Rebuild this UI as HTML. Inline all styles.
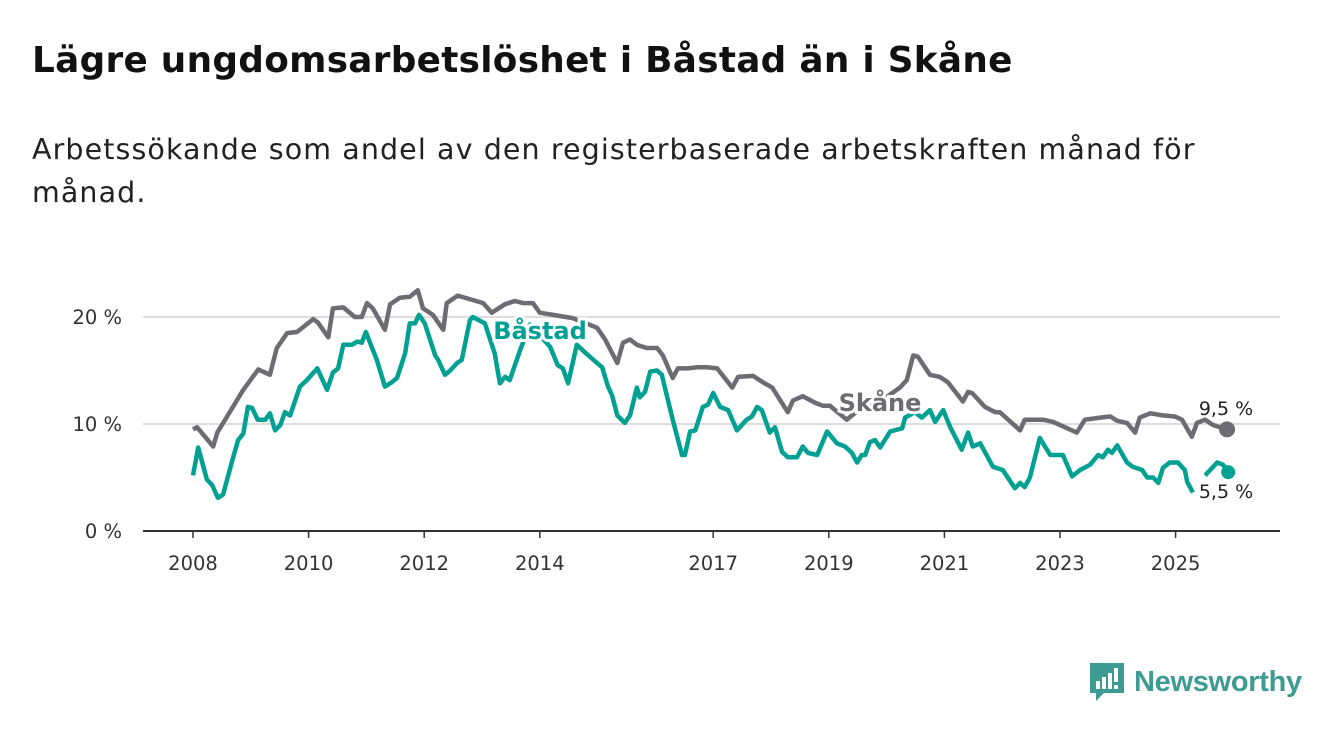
<!DOCTYPE html>
<html><head><meta charset="utf-8"><style>
body{margin:0;width:1340px;height:734px;background:#fff;font-family:"DejaVu Sans","Liberation Sans",sans-serif;overflow:hidden;position:relative}
h1{position:absolute;left:32px;top:40px;margin:0;font-size:35.8px;font-weight:bold;color:#111;white-space:nowrap;letter-spacing:0.3px}
.sub{position:absolute;left:32px;top:128px;width:1200px;font-size:28.5px;line-height:43px;color:#222;letter-spacing:1.1px}
svg{position:absolute;left:0;top:0}
</style></head><body>
<h1>Lägre ungdomsarbetslöshet i Båstad än i Skåne</h1>
<div class="sub">Arbetssökande som andel av den registerbaserade arbetskraften månad för månad.</div>
<svg id="c" width="1340" height="734"></svg>
<script>
const yTicks=[0,10,20];
const xTicks=[2008,2010,2012,2014,2017,2019,2021,2023,2025];
const skaneT=[0,.07,.35,.42,.59,.87,1.13,1.33,1.45,1.63,1.8,2.08,2.16,2.34,2.42,2.6,2.8,2.92,3.01,3.11,3.32,3.41,3.58,3.75,3.89,3.98,4.15,4.33,4.39,4.58,4.83,5.02,5.17,5.4,5.57,5.71,5.88,6,6.57,6.99,7.13,7.34,7.44,7.56,7.68,7.85,8.03,8.13,8.3,8.39,8.55,8.72,8.89,9.07,9.33,9.43,9.69,9.86,10.02,10.29,10.38,10.55,10.76,10.9,11.02,11.31,11.63,11.97,12.23,12.35,12.46,12.54,12.75,12.92,13.06,13.32,13.41,13.48,13.7,13.88,13.96,14.31,14.39,14.71,14.88,15.29,15.43,15.69,15.87,15.99,16.16,16.3,16.38,16.56,16.78,16.99,17.11,17.28,17.37,17.51,17.65,17.89];
const skaneV=[9.5,9.7,7.9,9.2,10.7,13.2,15.1,14.6,17.1,18.5,18.6,19.8,19.5,18.1,20.8,20.9,20,20,21.3,20.8,18.8,21.2,21.8,21.9,22.5,20.8,20.2,18.8,21.3,22,21.6,21.3,20.4,21.2,21.5,21.3,21.3,20.4,19.9,19,17.9,15.7,17.6,17.9,17.4,17.1,17.1,16.4,14.3,15.2,15.2,15.3,15.3,15.2,13.4,14.4,14.5,13.9,13.4,11.1,12.2,12.6,12,11.7,11.7,10.4,11.8,12.4,13.4,14.1,16.4,16.3,14.6,14.4,13.9,12.1,13,12.9,11.6,11.1,11.1,9.4,10.4,10.4,10.2,9.2,10.4,10.6,10.7,10.3,10.1,9.2,10.6,11,10.8,10.7,10.4,8.8,10.1,10.4,9.9,9.5];
const bastadT=[0,.09,.24,.33,.43,.52,.67,.78,.87,.95,1.02,1.12,1.25,1.33,1.42,1.51,1.59,1.68,1.85,1.97,2.15,2.32,2.42,2.51,2.6,2.75,2.84,2.92,2.99,3.18,3.32,3.44,3.53,3.67,3.75,3.84,3.91,4.01,4.19,4.24,4.36,4.45,4.57,4.65,4.79,4.84,5.05,5.22,5.31,5.4,5.48,5.66,5.83,6,6.18,6.31,6.4,6.49,6.64,6.78,6.99,7.08,7.18,7.25,7.34,7.47,7.56,7.68,7.73,7.82,7.91,8.03,8.11,8.3,8.46,8.51,8.6,8.69,8.82,8.91,9,9.12,9.26,9.41,9.58,9.67,9.76,9.84,9.98,10.07,10.19,10.29,10.45,10.55,10.64,10.8,10.97,11.14,11.28,11.4,11.49,11.57,11.63,11.71,11.8,11.89,12.06,12.27,12.32,12.49,12.61,12.75,12.84,12.98,13.1,13.3,13.41,13.49,13.62,13.84,14.01,14.22,14.31,14.39,14.48,14.65,14.83,15.05,15.21,15.35,15.52,15.66,15.74,15.83,15.9,15.99,16.16,16.26,16.42,16.51,16.61,16.7,16.78,16.9,16.99,17.04,17.16,17.2,17.3,17.4,17.51,17.72,17.82,17.91];
const bastadV=[5.2,7.8,4.8,4.3,3.1,3.4,6.4,8.5,9.1,11.6,11.5,10.4,10.4,11,9.4,9.9,11.1,10.8,13.5,14.1,15.2,13.2,14.8,15.2,17.4,17.4,17.7,17.6,18.6,16,13.5,13.9,14.3,16.6,19.4,19.4,20.2,19.4,16.4,16,14.6,15,15.7,16,19.7,20,19.4,16.6,13.8,14.4,14.1,16.9,19.3,18.3,17.2,15.5,15.2,13.8,17.4,16.7,15.7,15.3,13.5,12.7,10.8,10.1,10.8,13.4,12.5,13,14.9,15,14.6,10.4,7.1,7.1,9.3,9.4,11.6,11.8,12.9,11.6,11.3,9.4,10.4,10.7,11.6,11.3,9.2,9.7,7.4,6.9,6.9,7.9,7.3,7.1,9.3,8.2,7.9,7.3,6.4,7.1,7.1,8.3,8.5,7.8,9.3,9.6,10.6,11.1,10.6,11.3,10.2,11.3,9.7,7.6,9.2,7.9,8.2,6,5.7,4,4.5,4.1,5,8.7,7.1,7.1,5.1,5.7,6.2,7.1,6.9,7.6,7.3,8,6.4,6,5.7,5,5,4.5,5.9,6.4,6.4,6.4,5.7,4.6,3.6,null,5.2,6.4,6.2,5.5];
const NS='http://www.w3.org/2000/svg';
const svg=document.getElementById('c');
const X=t=>193+t*57.8, Xy=y=>X(y-2008), Y=v=>531-v*10.7;
function el(tag,a,txt){const e=document.createElementNS(NS,tag);for(const k in a)e.setAttribute(k,a[k]);if(txt!=null)e.textContent=txt;svg.appendChild(e);return e;}
yTicks.forEach(v=>{
 const g=el('line',{x1:143,x2:1280,y1:Y(v),y2:Y(v),stroke:v?'#ddd':'#333','stroke-width':2});
 
 
 const t=el('text',{x:122,y:Y(v)+7,'text-anchor':'end','font-size':19.5,fill:'#333'},v+' %');
 
 
});
xTicks.forEach(y=>{
 const tk=el('line',{x1:Xy(y),x2:Xy(y),y1:531,y2:538,stroke:'#333','stroke-width':1.5});
 
 
 const t=el('text',{x:Xy(y),y:570,'text-anchor':'middle','font-size':19.5,fill:'#333'},y);
 
 
});
function path(T,V){let d='',pen=false;T.forEach((t,i)=>{if(V[i]==null){pen=false;return;}d+=(pen?'L':'M')+X(t).toFixed(1)+','+Y(V[i]).toFixed(1);pen=true;});return d;}
const ps=el('path',{d:path(skaneT,skaneV),fill:'none',stroke:'#6d6c72','stroke-width':4.5,'stroke-linejoin':'round'});


const pb=el('path',{d:path(bastadT,bastadV),fill:'none',stroke:'#00a093','stroke-width':4.5,'stroke-linejoin':'round'});


const sl=skaneT.length-1, bl=bastadT.length-1;
const d1=el('circle',{cx:X(skaneT[sl]),cy:Y(skaneV[sl]),r:8,fill:'#6d6c72'});


const d2=el('circle',{cx:X(bastadT[bl]),cy:Y(bastadV[bl]),r:7,fill:'#00a093'});


const l1=el('text',{x:1226,y:415,'text-anchor':'middle','font-size':19,fill:'#222'},'9,5 %');


const l2=el('text',{x:1226,y:498,'text-anchor':'middle','font-size':19,fill:'#222'},'5,5 %');


const n1=el('text',{x:540,y:339,'text-anchor':'middle','font-size':24,'font-weight':'bold',fill:'#00a093',stroke:'#fff','stroke-width':6,'paint-order':'stroke'},'Båstad');


const n2=el('text',{x:880,y:411,'text-anchor':'middle','font-size':24,'font-weight':'bold',fill:'#6d6c72',stroke:'#fff','stroke-width':6,'paint-order':'stroke'},'Skåne');


</script>
<div style="position:absolute;left:1088px;top:661px;display:flex;align-items:center">
<svg width="38" height="42" style="position:static" viewBox="0 0 38 42"><path d="M2 2H36V32H16L8 40V32H2Z" fill="#3d9b93"/><rect x="8" y="20" width="4" height="8" fill="#fff"/><rect x="14" y="16" width="4" height="12" fill="#fff"/><rect x="20" y="12" width="4" height="16" fill="#fff"/><rect x="26" y="7" width="4" height="14" fill="#fff"/><rect x="26" y="24" width="4" height="4" fill="#fff"/></svg>
<span style="margin-left:8px;font-size:29px;color:#3d9b93;font-weight:bold;font-family:'Liberation Sans',sans-serif;letter-spacing:-0.3px">Newsworthy</span></div>
</body></html>
